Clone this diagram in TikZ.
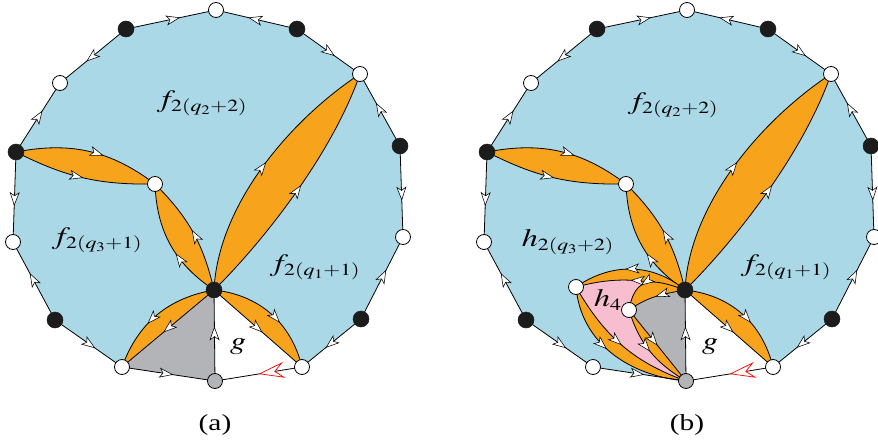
\documentclass[tikz,border=0pt]{standalone}
\usepackage{mathptmx}
\usepackage[no-math]{fontspec}
\newfontfamily\capfont{Liberation Serif}
\usetikzlibrary{arrows.meta,decorations.markings}
\DeclareMathSizes{25}{25}{17}{13}
\definecolor{skyb}{RGB}{170,216,230}
\definecolor{orng}{RGB}{247,163,28}
\definecolor{gry}{RGB}{178,180,183}
\definecolor{pnk}{RGB}{246,190,206}
\definecolor{blk}{RGB}{28,28,28}
\newcommand\wide[1]{\scalebox{1.28}[1]{#1}}
\tikzset{
  wnode/.style={circle,draw=black,fill=white,line width=0.8pt,minimum size=15pt,inner sep=0pt},
  bnode/.style={circle,draw=blk,fill=blk,line width=0.5pt,minimum size=16pt,inner sep=0pt},
  gnode/.style={circle,draw=black,fill=gry,line width=0.8pt,minimum size=15pt,inner sep=0pt},
  ln/.style={draw=black,line width=0.8pt},
  arr/.style={postaction={decorate,decoration={markings,mark=at position #1 with {\arrow{Stealth[length=14pt,width=10pt,inset=3.5pt,fill=white,line width=0.55pt]}}}}},
  redarr/.style={postaction={decorate,decoration={markings,mark=at position #1 with {\arrow{Stealth[length=26pt,width=16pt,inset=9pt,color=red,fill=white,line width=0.7pt]}}}}},
  lbl/.style={inner sep=0pt,font=\fontsize{25}{30}\selectfont},
  captxt/.style={inner sep=0pt,font=\capfont\fontsize{23}{28}\selectfont},
}
\newcommand\diagbase[1]{%
  \coordinate (#1T) at (216,10);
  \coordinate (#1BLa) at (126,29);
  \coordinate (#1BRa) at (297,29);
  \coordinate (#1WUL) at (60,83);
  \coordinate (#1WUR) at (360,74);
  \coordinate (#1BLk) at (16,152);
  \coordinate (#1BRk) at (400,146);
  \coordinate (#1WL) at (13,242);
  \coordinate (#1WR) at (403,237);
  \coordinate (#1BLL) at (55,320);
  \coordinate (#1BLR) at (361,319);
  \coordinate (#1WBL) at (122,367);
  \coordinate (#1WBR) at (302,367);
  \coordinate (#1G) at (215,381);
  \coordinate (#1C) at (214,290);
  \coordinate (#1I) at (155,184);
  \fill[skyb] (#1T) -- (#1BRa) -- (#1WUR) -- (#1BRk) -- (#1WR) -- (#1BLR) -- (#1WBR) -- (#1G)
     -- (#1WBL) -- (#1BLL) -- (#1WL) -- (#1BLk) -- (#1WUL) -- (#1BLa) -- cycle;
}
\newcommand\diaglenses[1]{%
  % lens C -> I
  \fill[orng] (#1C) to[bend left=27] (#1I) to[bend left=16] (#1C);
  \draw[ln,arr=0.42] (#1C) to[bend left=27] (#1I);
  \draw[ln,arr=0.52] (#1C) to[bend right=16] (#1I);
  % lens BLk -> I
  \fill[orng] (#1BLk) to[bend left=24] (#1I) to[bend left=14] (#1BLk);
  \draw[ln,arr=0.6] (#1BLk) to[bend left=24] (#1I);
  \draw[ln,arr=0.5] (#1BLk) to[bend right=14] (#1I);
  % big lens C -> WUR
  \fill[orng] (#1C) .. controls +(4,-85) and +(-70,46) .. (#1WUR)
     .. controls +(-30,86) and +(41,-40) .. (#1C);
  \draw[ln,arr=0.52] (#1C) .. controls +(4,-85) and +(-70,46) .. (#1WUR);
  \draw[ln,arr=0.52] (#1C) .. controls +(41,-40) and +(-30,86) .. (#1WUR);
  % lens C -> WBR
  \fill[orng] (#1C) to[bend left=35] (#1WBR) -- (#1C);
  \draw[ln,arr=0.6] (#1C) to[bend left=35] (#1WBR);
  \draw[ln,arr=0.55] (#1C) -- (#1WBR);
}
\newcommand\diagouter[1]{%
  \draw[ln,arr=0.6] (#1BLa) -- (#1T);
  \draw[ln,arr=0.6] (#1BRa) -- (#1T);
  \draw[ln,arr=0.6] (#1BRa) -- (#1WUR);
  \draw[ln,arr=0.6] (#1BLa) -- (#1WUL);
  \draw[ln,arr=0.6] (#1BLk) -- (#1WUL);
  \draw[ln,arr=0.6] (#1BLk) -- (#1WL);
  \draw[ln,arr=0.6] (#1BLL) -- (#1WL);
  \draw[ln,arr=0.6] (#1BLL) -- (#1WBL);
  \draw[ln,arr=0.55] (#1WBL) -- (#1G);
  \draw[ln,arr=0.6] (#1BLR) -- (#1WBR);
  \draw[ln,arr=0.6] (#1BLR) -- (#1WR);
  \draw[ln,arr=0.6] (#1BRk) -- (#1WR);
  \draw[ln,arr=0.6] (#1BRk) -- (#1WUR);
  \draw[ln,redarr=0.5] (#1WBR) -- (#1G);
  \draw[ln,arr=0.6] (#1G) -- (#1C);
}
\newcommand\diagnodes[1]{%
  \node[wnode] (#1nT) at (#1T) {};
  \node[bnode] (#1nBLa) at (#1BLa) {};
  \node[bnode] (#1nBRa) at (#1BRa) {};
  \node[wnode] (#1nWUL) at (#1WUL) {};
  \node[wnode] (#1nWUR) at (#1WUR) {};
  \node[bnode] (#1nBLk) at (#1BLk) {};
  \node[bnode] (#1nBRk) at (#1BRk) {};
  \node[wnode] (#1nWL) at (#1WL) {};
  \node[wnode] (#1nWR) at (#1WR) {};
  \node[bnode] (#1nBLL) at (#1BLL) {};
  \node[bnode] (#1nBLR) at (#1BLR) {};
  \node[wnode] (#1nWBL) at (#1WBL) {};
  \node[wnode] (#1nWBR) at (#1WBR) {};
  \node[gnode] (#1nG) at (#1G) {};
  \node[bnode] (#1nC) at (#1C) {};
  \node[wnode] (#1nI) at (#1I) {};
}
\begin{document}
\begin{tikzpicture}[x=1pt,y=-1pt]
\useasboundingbox (0,0) rectangle (878,444);
% ---------- (a)
\begin{scope}
  \diagbase{a}
  \fill[gry] (aWBL) -- (aC) -- (aG) -- cycle;
  \fill[white] (aC) -- (aG) -- (aWBR) -- cycle;
  \diaglenses{a}
  \fill[orng] (aC) to[bend right=30] (aWBL) -- (aC);
  \draw[ln,arr=0.6] (aC) to[bend right=30] (aWBL);
  \draw[ln,arr=0.55] (aC) -- (aWBL);
  \diagouter{a}
  \diagnodes{a}
  \node[lbl] (la1) at (202,103) {\wide{$f_{2(q_2+2)}$}};
  \node[lbl] (la2) at (97,240) {\wide{$f_{2(q_3+1)}$}};
  \node[lbl] (la3) at (315,267) {\wide{$f_{2(q_1+1)}$}};
  \node[lbl] (la4) at (238,347) {\wide{$g$}};
  \node[captxt] (capa) at (215,425) {\wide{(a)}};
\end{scope}
% ---------- (b)
\begin{scope}[xshift=471pt]
  \diagbase{b}
  \coordinate (bH) at (105,287);
  \coordinate (bJ) at (158,310);
  \fill[gry] (bC) to[out=190,in=35] (bJ) -- (bG) -- cycle;
  \fill[white] (bC) -- (bG) -- (bWBR) -- cycle;
  \fill[pnk] (bH) to[out=15,in=165] (bC) to[out=160,in=80,looseness=1.5] (bJ)
     to[out=-73,in=149] (bG) to[out=160,in=-60] (bH) -- cycle;
  \diaglenses{b}
  % C -> H
  \fill[orng] (bC) to[out=140,in=35] (bH) to[out=15,in=165] (bC);
  \draw[ln,arr=0.55] (bC) to[out=140,in=35] (bH);
  \draw[ln,arr=0.5] (bC) to[out=165,in=15] (bH);
  % C -> J
  \fill[orng] (bC) to[out=160,in=80,looseness=1.5] (bJ) to[out=35,in=190] (bC);
  \draw[ln,arr=0.62] (bC) to[out=160,in=80,looseness=1.5] (bJ);
  \draw[ln,arr=0.5] (bC) to[out=190,in=35] (bJ);
  % H -> G
  \fill[orng] (bH) to[out=-85,in=175] (bG) to[out=160,in=-60] (bH);
  \draw[ln,arr=0.45] (bH) to[out=-85,in=175] (bG);
  \draw[ln,arr=0.5] (bH) to[out=-60,in=160] (bG);
  % J -> G
  \fill[orng] (bJ) to[out=-73,in=149] (bG) -- (bJ);
  \draw[ln,arr=0.5] (bJ) to[out=-73,in=149] (bG);
  \draw[ln,arr=0.5] (bJ) -- (bG);
  \diagouter{b}
  \diagnodes{b}
  \node[wnode] (bnH) at (bH) {};
  \node[wnode] (bnJ) at (bJ) {};
  \node[lbl] (lb1) at (202,105) {\wide{$f_{2(q_2+2)}$}};
  \node[lbl] (lb2) at (97,242) {\wide{$h_{2(q_3+2)}$}};
  \node[lbl] (lb3) at (315,267) {\wide{$f_{2(q_1+1)}$}};
  \node[lbl] (lb4) at (137,300) {\wide{$h_4$}};
  \node[lbl] (lb5) at (239,347) {\wide{$g$}};
  \node[captxt] (capb) at (216,425) {\wide{(b)}};
\end{scope}
\end{tikzpicture}
\end{document}
